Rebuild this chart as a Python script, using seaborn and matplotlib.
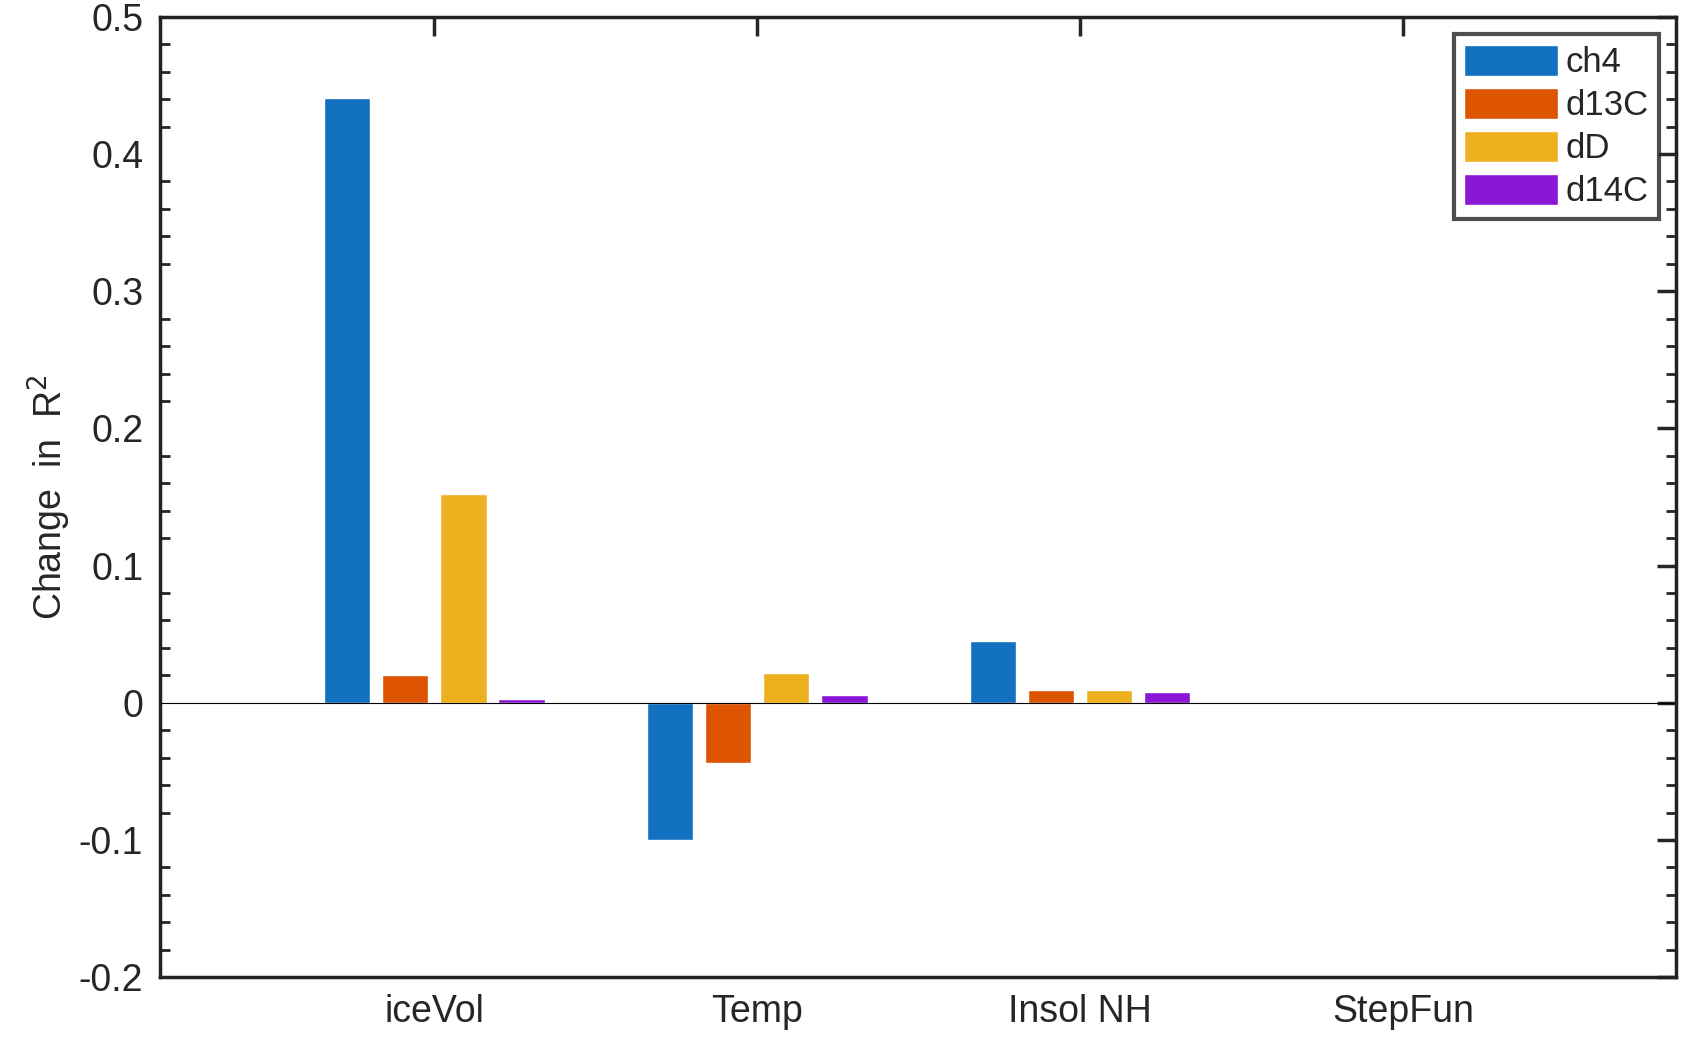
import numpy as np
import pandas as pd
import matplotlib
matplotlib.use("Agg")
import matplotlib.pyplot as plt
import seaborn as sns
from matplotlib.ticker import MultipleLocator

categories = ["iceVol", "Temp", "Insol NH", "StepFun"]
series = ["ch4", "d13C", "dD", "d14C"]
ch4 = [0.441, -0.100, 0.045, 0.0]
d13C = [0.020, -0.044, 0.0095, 0.0]
dD = [0.152, 0.022, 0.009, 0.0]
d14C = [0.003, 0.0055, 0.008, 0.0]
colors = ["#1170C0", "#DD5500", "#EDB120", "#8B16D6"]

rows = []
for name, vals in zip(series, [ch4, d13C, dD, d14C]):
    for c, v in zip(categories, vals):
        rows.append({"cat": c, "series": name, "value": v})
df = pd.DataFrame(rows)

sns.set_style("white")
plt.rcParams['font.family'] = ['Helvetica', 'Liberation Sans', 'DejaVu Sans']
fig = plt.figure(figsize=(16.93, 10.53), dpi=100)
ax = fig.add_axes([0.0944, 0.072, 0.8956, 0.912])

sns.barplot(data=df, x="cat", y="value", hue="series", palette=colors,
            width=0.72, gap=0.2, saturation=1, ax=ax, errorbar=None)
ax.axhline(0, color="black", lw=0.8)

ax.set_xlim(-0.85, 3.846)
ax.set_ylim(-0.2, 0.5)
ax.yaxis.set_major_locator(MultipleLocator(0.1))
ax.yaxis.set_minor_locator(MultipleLocator(0.02))
ax.set_yticklabels([f"{t:.1f}".replace("0.0", "0") if abs(t) < 1e-9 else f"{t:g}" for t in ax.get_yticks()])
ax.set_xlabel("")
ax.set_ylabel("Change  in  R$^2$", fontsize=27)
ax.tick_params(axis="both", which="major", direction="in", length=14, width=2.5,
               labelsize=27, top=True, right=True, pad=12)
ax.tick_params(axis="y", which="minor", direction="in", length=7, width=2, left=True, right=True)
for s in ax.spines.values():
    s.set_linewidth(2.5)
    s.set_color("#222222")

leg = ax.legend(loc="upper right", fontsize=25, frameon=True, fancybox=False,
                handlelength=2.7, handleheight=1.0, handletextpad=0.2,
                borderpad=0.3, labelspacing=0.25, borderaxespad=0.5)
leg.get_frame().set_edgecolor("#222222")
leg.get_frame().set_linewidth(3)

fig.savefig("out.png", dpi=100)
